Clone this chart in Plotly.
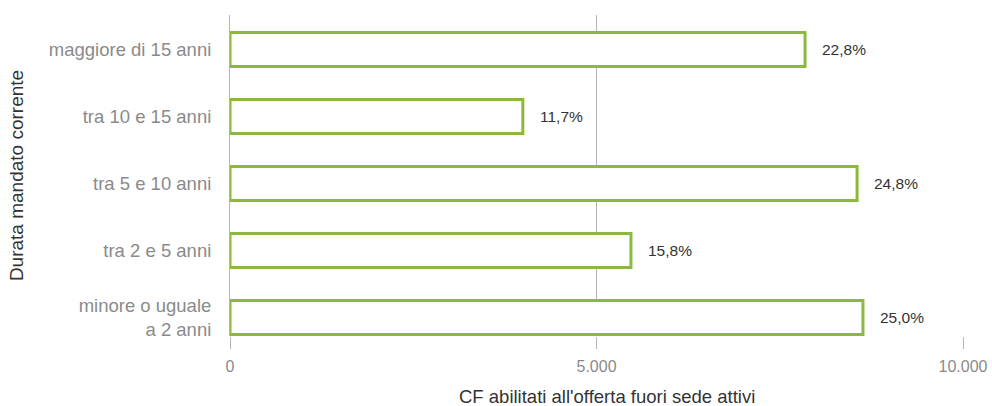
import plotly.graph_objects as go

# Durata del mandato corrente, dall'alto verso il basso
categories = [
    "maggiore di 15 anni",
    "tra 10 e 15 anni",
    "tra 5 e 10 anni",
    "tra 2 e 5 anni",
    "minore o uguale<br>a 2 anni",
]
# Numero di CF abilitati all'offerta fuori sede attivi
counts = [7845, 3995, 8555, 5470, 8635]
# Quota percentuale sul totale
shares = ["22,8%", "11,7%", "24,8%", "15,8%", "25,0%"]
x_ticks = [0, 5000, 10000]

GREEN = "#8cb83f"
GRID = "#b4b4b4"
TICK_GREY = "#8a8a8a"
DARK = "#333333"
FONT = "Liberation Sans, Arial, sans-serif"

fig = go.Figure()
fig.add_trace(go.Bar(
    y=categories,
    x=counts,
    orientation="h",
    width=0.51,
    marker=dict(color="white", line=dict(color=GREEN, width=3)),
    hoverinfo="x+y",
))

for cat, val, lab in zip(categories, counts, shares):
    fig.add_annotation(
        x=val, y=cat, text=lab, showarrow=False,
        xanchor="left", yanchor="middle", xshift=15,
        font=dict(family=FONT, size=15.5, color=DARK),
    )

# x-axis title, placed slightly right of the plot centre
fig.add_annotation(
    xref="paper", yref="paper", x=0.514, y=-0.19,
    xanchor="center", yanchor="middle", showarrow=False,
    text="CF abilitati all'offerta fuori sede attivi",
    font=dict(family=FONT, size=18.5, color=DARK),
)

fig.update_layout(
    width=992, height=406,
    margin=dict(l=230, r=29, t=15, b=70, autoexpand=False),
    paper_bgcolor="white", plot_bgcolor="white",
    separators=",.",
    showlegend=False,
    font=dict(family=FONT),
    xaxis=dict(
        range=[0, 10000],
        tickvals=x_ticks,
        tickformat=",d",
        automargin=False,
        showgrid=True, gridcolor=GRID, gridwidth=1,
        zeroline=False,
        showline=False,
        ticks="outside", ticklen=12, tickcolor=GRID, tickwidth=1,
        ticklabelstandoff=4,
        tickfont=dict(family=FONT, size=16, color=TICK_GREY),
        fixedrange=True,
    ),
    yaxis=dict(
        categoryorder="array", categoryarray=categories,
        range=[4.276, -0.515],
        automargin=False,
        showgrid=False, zeroline=False, showline=True,
        linecolor=GRID, linewidth=1,
        ticks="", ticklabelstandoff=14,
        tickfont=dict(family=FONT, size=18.5, color=TICK_GREY),
        title=dict(text="Durata mandato corrente",
                   font=dict(family=FONT, size=19, color=DARK), standoff=20),
        fixedrange=True,
    ),
)

fig.write_html("out.html")
